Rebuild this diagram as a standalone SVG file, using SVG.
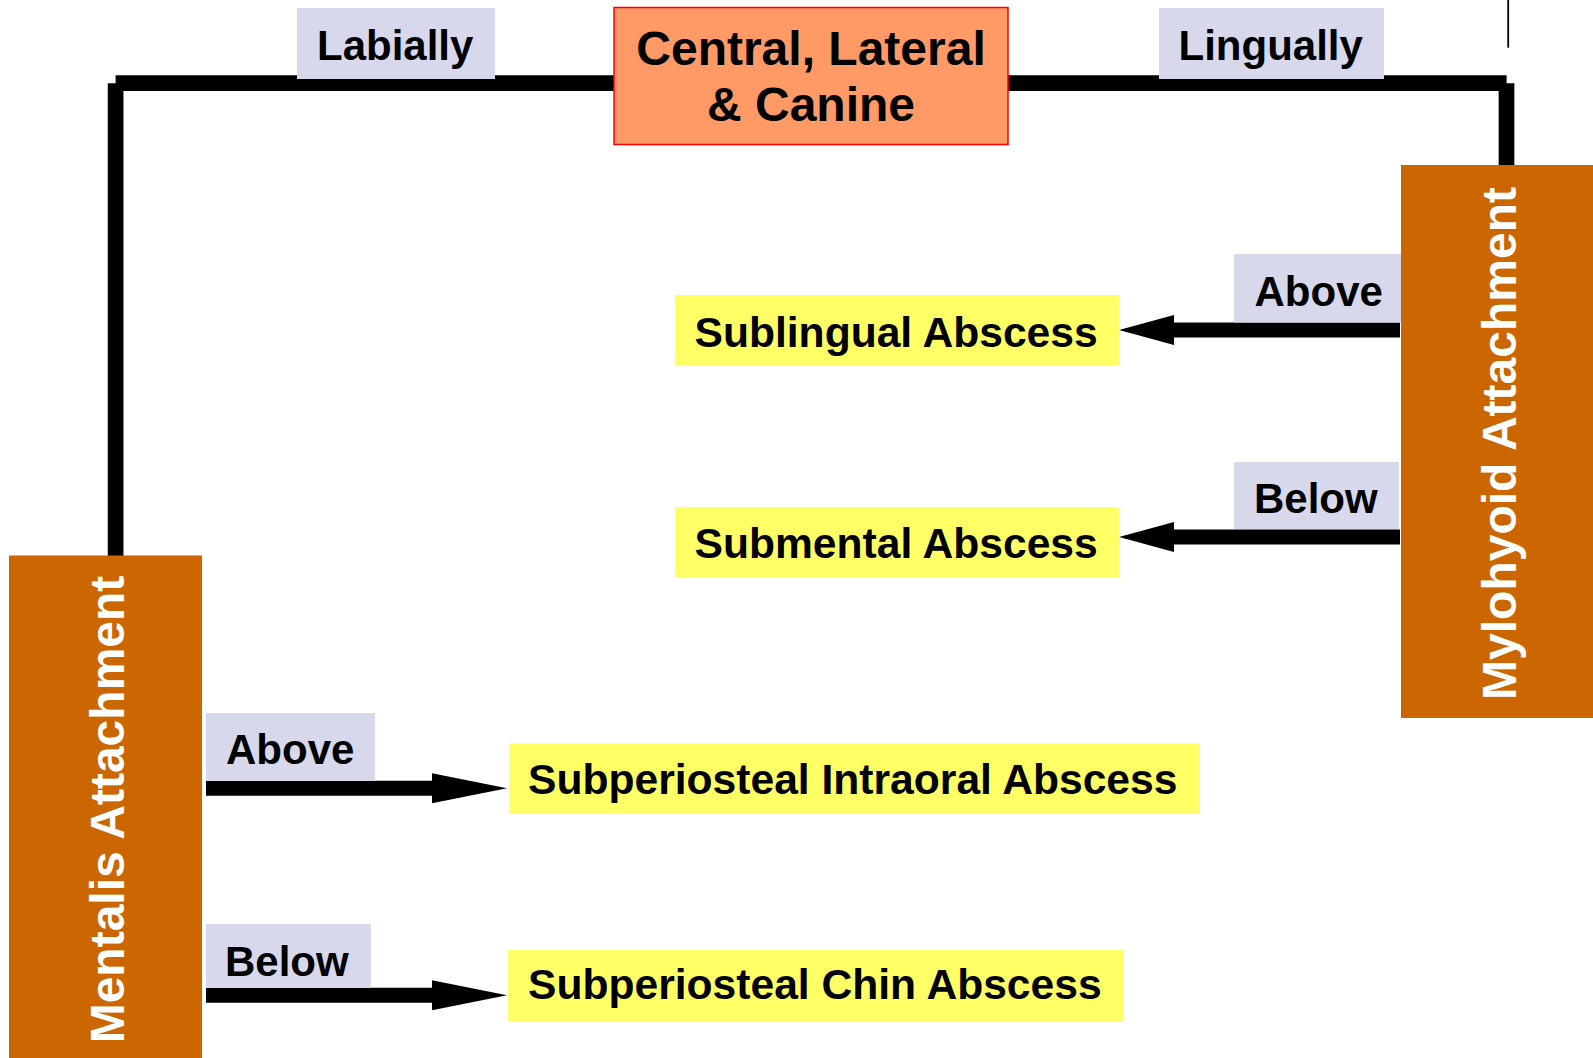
<svg xmlns="http://www.w3.org/2000/svg" width="1593" height="1058" viewBox="0 0 1593 1058">
  <style>
    text { font-family: "Liberation Sans", Arial, Helvetica, sans-serif; font-weight: bold; }
    .lbl { fill: #D8D8EC; }
    .lbltxt { font-size: 42px; fill: #000; }
    .abs { fill: #FFFF66; }
    .abstxt { font-size: 42.6px; fill: #000; }
    .muscle { fill: #CC6600; }
    .muscletxt { font-size: 48px; fill: #FFFFFF; text-anchor: middle; }
    .tooth { fill: #FF9966; stroke: #FF0000; stroke-width: 1.5; }
    .toothtxt { font-size: 48px; fill: #000; text-anchor: middle; }
    .conn { stroke: #000; stroke-width: 15.7; fill: none; stroke-linecap: butt; }
    .arrow { stroke: #000; stroke-width: 15; fill: none; stroke-linecap: butt; }
  </style>
  <defs>
    <marker id="headShort" markerUnits="userSpaceOnUse" markerWidth="56" markerHeight="30" refX="0" refY="15" orient="auto" overflow="visible">
      <path d="M0,0 L55,15 L0,30 Z" fill="#000"/>
    </marker>
    <marker id="headLong" markerUnits="userSpaceOnUse" markerWidth="76" markerHeight="30" refX="0" refY="15" orient="auto" overflow="visible">
      <path d="M0,0 L75,15 L0,30 Z" fill="#000"/>
    </marker>
  </defs>
  <rect x="0" y="0" width="1593" height="1058" fill="#FFFFFF"/>

  <g id="connectors">
    <line class="conn" x1="115.6" y1="83.2" x2="1506.6" y2="83.2"/>
    <line class="conn" x1="115.6" y1="83.2" x2="115.6" y2="556"/>
    <line class="conn" x1="1506.5" y1="83.2" x2="1506.5" y2="166"/>
    <line x1="1508.2" y1="0" x2="1508.2" y2="47.7" stroke="#000" stroke-width="1.8"/>
    <line class="arrow" x1="1400" y1="330" x2="1174" y2="330" marker-end="url(#headShort)"/>
    <line class="arrow" x1="1400" y1="537" x2="1174" y2="537" marker-end="url(#headShort)"/>
    <line class="arrow" x1="206" y1="788.3" x2="432" y2="788.3" marker-end="url(#headLong)"/>
    <line class="arrow" x1="206" y1="995.3" x2="432" y2="995.3" marker-end="url(#headLong)"/>
  </g>

  <g id="node-central">
    <rect class="tooth" x="614" y="7.5" width="394" height="137"/>
    <text class="toothtxt" x="811" y="64.5">Central, Lateral</text>
    <text class="toothtxt" x="811" y="121">&amp; Canine</text>
  </g>

  <g id="label-labially">
    <rect class="lbl" x="297" y="8" width="198" height="71"/>
    <text class="lbltxt" x="317" y="60">Labially</text>
  </g>

  <g id="label-lingually">
    <rect class="lbl" x="1159" y="8" width="225" height="71"/>
    <text class="lbltxt" x="1178.5" y="59.5">Lingually</text>
  </g>

  <g id="node-mylohyoid">
    <rect class="muscle" x="1401" y="165" width="192" height="553"/>
    <text class="muscletxt" transform="translate(1516,443.5) rotate(-90)">Mylohyoid Attachment</text>
  </g>

  <g id="node-mentalis">
    <rect class="muscle" x="9" y="555.5" width="193" height="502.5"/>
    <text class="muscletxt" transform="translate(124,809.5) rotate(-90)">Mentalis Attachment</text>
  </g>

  <g id="label-above-right">
    <rect class="lbl" x="1234" y="254" width="167" height="68.5"/>
    <text class="lbltxt" x="1254.5" y="306">Above</text>
  </g>

  <g id="label-below-right">
    <rect class="lbl" x="1234" y="462" width="165" height="67"/>
    <text class="lbltxt" x="1254" y="513">Below</text>
  </g>

  <g id="label-above-left">
    <rect class="lbl" x="206" y="713" width="169" height="68"/>
    <text class="lbltxt" x="226" y="764">Above</text>
  </g>

  <g id="label-below-left">
    <rect class="lbl" x="206" y="924" width="165" height="64"/>
    <text class="lbltxt" x="225" y="975.5">Below</text>
  </g>

  <g id="node-sublingual">
    <rect class="abs" x="675" y="295" width="444" height="70.5"/>
    <text class="abstxt" x="694.5" y="346.5">Sublingual Abscess</text>
  </g>

  <g id="node-submental">
    <rect class="abs" x="675" y="507" width="444" height="70.5"/>
    <text class="abstxt" x="694.5" y="558">Submental Abscess</text>
  </g>

  <g id="node-intraoral">
    <rect class="abs" x="509" y="743.5" width="691" height="70.5"/>
    <text class="abstxt" x="528" y="793.5">Subperiosteal Intraoral Abscess</text>
  </g>

  <g id="node-chin">
    <rect class="abs" x="508" y="950" width="615" height="71"/>
    <text class="abstxt" x="528" y="999">Subperiosteal Chin Abscess</text>
  </g>
</svg>
